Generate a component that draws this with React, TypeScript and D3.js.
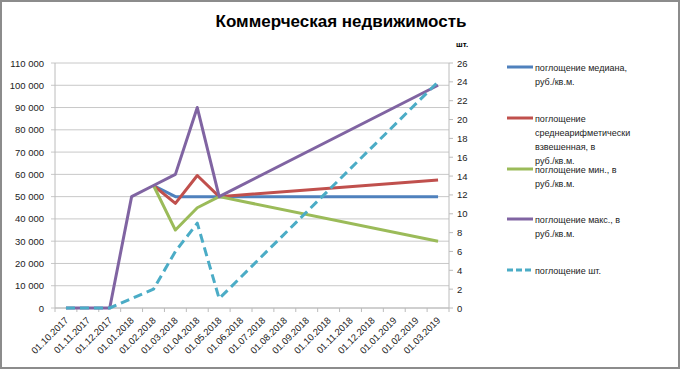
import React from 'react';
import * as d3 from 'd3';

const categories = [
  '01.10.2017', '01.11.2017', '01.12.2017', '01.01.2018', '01.02.2018', '01.03.2018',
  '01.04.2018', '01.05.2018', '01.06.2018', '01.07.2018', '01.08.2018', '01.09.2018',
  '01.10.2018', '01.11.2018', '01.12.2018', '01.01.2019', '01.02.2019', '01.03.2019'
];

type V = number | null;
const n = null;
const median: V[] = [n, n, n, n, 55000, 50000, 50000, 50000, n, n, n, n, n, n, n, n, n, 50000];
const avgWeighted: V[] = [n, n, n, n, 55000, 47000, 59500, 50000, n, n, n, n, n, n, n, n, n, 57500];
const minVals: V[] = [n, n, n, n, 55000, 35000, 45000, 50000, n, n, n, n, n, n, n, n, n, 30000];
const maxVals: V[] = [0, 0, 0, 50000, 55000, 60000, 90000, 50000, n, n, n, n, n, n, n, n, n, 100000];
const countVals: V[] = [0, 0, 0, 1, 2, 6, 9, 1, n, n, n, n, n, n, n, n, n, 24];

const leftTicks = d3.range(0, 110001, 10000);
const rightTicks = d3.range(0, 27, 2);

const series = [
  { name: ['поглощение медиана,', 'руб./кв.м.'], values: median, color: '#4F81BD', right: false },
  { name: ['поглощение', 'среднеарифметически', 'взвешенная, в', 'руб./кв.м.'], values: avgWeighted, color: '#C0504D', right: false },
  { name: ['поглощение мин., в', 'руб./кв.м.'], values: minVals, color: '#9BBB59', right: false },
  { name: ['поглощение макс., в', 'руб./кв.м.'], values: maxVals, color: '#8064A2', right: false },
  { name: ['поглощение шт.'], values: countVals, color: '#4BACC6', right: true }
];

const W = 681;
const H = 370;
const plot = { left: 55, right: 449, top: 63, bottom: 308 };
const font = '"Liberation Sans", Arial, sans-serif';

const fmt = (v: number) => d3.format(',')(v).replace(/,/g, ' ');

export default function App() {
  const x = d3.scaleBand<string>().domain(categories).range([plot.left, plot.right]);
  const yL = d3.scaleLinear().domain([0, 110000]).range([plot.bottom, plot.top]);
  const yR = d3.scaleLinear().domain([0, 26]).range([plot.bottom, plot.top]);
  const bw = x.bandwidth();

  const pathFor = (vals: V[], right: boolean) => {
    const pts = vals
      .map((v, i) => ({ c: categories[i], v }))
      .filter((d) => d.v !== null) as { c: string; v: number }[];
    const y = right ? yR : yL;
    return d3.line<{ c: string; v: number }>()
      .x((d) => x(d.c)! + bw / 2)
      .y((d) => y(d.v))(pts) || '';
  };

  const legendY = [67, 118, 169, 219, 270];

  return (
    <svg width={W} height={H} style={{ position: 'absolute', left: 0, top: 0, background: '#fff' }}>
      <rect x={1} y={1} width={678} height={367} fill="#fff" stroke="#8c8c8c" strokeWidth={2} />
      <text x={341} y={27} textAnchor="middle" fontFamily={font} fontWeight="bold" fontSize={17} fill="#000">
        Коммерческая недвижимость
      </text>

      {/* gridlines + left axis */}
      {leftTicks.map((t) => (
        <g key={t}>
          <line x1={plot.left - 4} x2={plot.right} y1={yL(t)} y2={yL(t)} stroke="#c8c8c8" strokeWidth={1} />
          <text x={plot.left - 11} y={yL(t) + 3.5} textAnchor="end" fontFamily={font} fontSize={9.5} fill="#222">
            {fmt(t)}
          </text>
        </g>
      ))}
      <line x1={plot.left} x2={plot.left} y1={plot.top} y2={plot.bottom} stroke="#bcbcbc" />

      {/* right axis */}
      <line x1={plot.right} x2={plot.right} y1={plot.top} y2={plot.bottom} stroke="#bcbcbc" />
      {rightTicks.map((t) => (
        <g key={t}>
          <line x1={plot.right} x2={plot.right + 4} y1={yR(t)} y2={yR(t)} stroke="#bcbcbc" />
          <text x={plot.right + 8} y={yR(t) + 3.5} fontFamily={font} fontSize={9.5} fill="#222">
            {t}
          </text>
        </g>
      ))}
      <text x={456} y={47} fontFamily={font} fontWeight="bold" fontSize={8} fill="#000">шт.</text>

      {/* bottom axis */}
      <line x1={plot.left} x2={plot.right} y1={plot.bottom} y2={plot.bottom} stroke="#bcbcbc" />
      {categories.map((c, i) => (
        <g key={c}>
          <line x1={plot.left + i * bw} x2={plot.left + i * bw} y1={plot.bottom} y2={plot.bottom + 4} stroke="#bcbcbc" />
          <text
            transform={`translate(${x(c)! + bw / 2 + 3},${plot.bottom + 13}) rotate(-45)`}
            textAnchor="end"
            fontFamily={font}
            fontSize={9.5}
            fill="#222"
          >
            {c}
          </text>
        </g>
      ))}
      <line x1={plot.right} x2={plot.right} y1={plot.bottom} y2={plot.bottom + 4} stroke="#bcbcbc" />

      {/* series */}
      {series.map((s) => (
        <path
          key={s.name.join(' ')}
          d={pathFor(s.values, s.right)}
          fill="none"
          stroke={s.color}
          strokeWidth={3}
          strokeLinejoin="round"
          strokeDasharray={s.right ? '9 5' : undefined}
        />
      ))}

      {/* legend */}
      {series.map((s, i) => (
        <g key={'lg' + i}>
          <line
            x1={507}
            x2={533}
            y1={legendY[i]}
            y2={legendY[i]}
            stroke={s.color}
            strokeWidth={3}
            strokeDasharray={s.right ? '6 3' : undefined}
          />
          {s.name.map((ln, j) => (
            <text key={j} x={535} y={legendY[i] + 3.5 + j * 14} fontFamily={font} fontSize={9} fill="#222">
              {ln}
            </text>
          ))}
        </g>
      ))}
    </svg>
  );
}
